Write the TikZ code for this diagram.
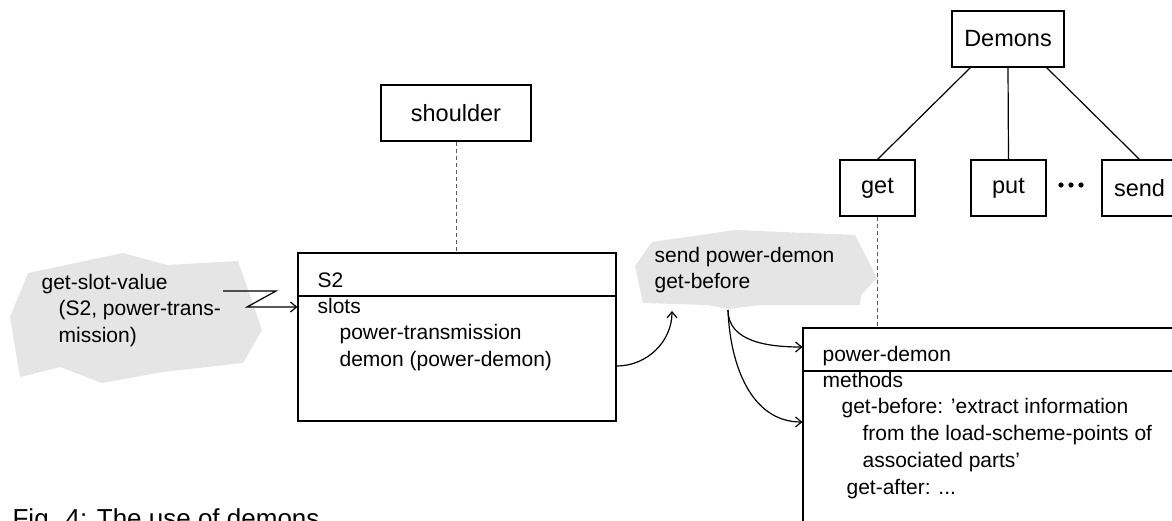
\documentclass[tikz,border=0pt]{standalone}
\usepackage{fontspec}
\setmainfont{Liberation Sans}
\usetikzlibrary{arrows.meta,calc}
\definecolor{cloudgray}{RGB}{229,229,229}
\definecolor{linkgray}{RGB}{90,90,90}

\begin{document}
\begin{tikzpicture}[x=1pt,y=-1pt,
  line width=1.2pt,
  >={Straight Barb[length=6pt,width=10pt]},
  titlebox/.style={draw, inner sep=0pt, font=\fontsize{23.5}{28}\selectfont},
  frame/.style={draw, inner sep=0pt},
  body/.style={anchor=base west, inner sep=0pt, align=left,
               font=\fontsize{21}{26.8}\selectfont},
  cloud/.style={fill=cloudgray, draw=none},
  link/.style={draw=linkgray, line width=1pt, dash pattern=on 4pt off 3pt}]
\useasboundingbox (0,0) rectangle (1172,520);
\clip (0,0) rectangle (1172,520);

% grey message clouds
\path[cloud] (28,273) -- (123,253) -- (167,265) -- (238,261) -- (262,330)
  -- (243,363) -- (163,372) -- (102,383) -- (60,367) -- (20,377)
  -- (10,317) -- cycle;
\path[cloud] (635,266) -- (652,242) -- (735,230) -- (855,235) -- (877,278)
  -- (861,295) -- (860,305) -- (760,305) -- (728,309) -- (707,305)
  -- (643,303) -- cycle;

% frames of the hierarchy
\node[titlebox, minimum width=150pt, minimum height=56pt] (sh) at (456,113) {shoulder};
\node[titlebox, minimum width=112pt, minimum height=56pt] (dem) at (1008,39) {Demons};
\node[titlebox, minimum width=75pt, minimum height=56pt] (get) at (877.5,188) {get};
\node[titlebox, minimum width=75pt, minimum height=56pt] (put) at (1008.5,188) {put};
\node[titlebox, minimum width=75pt, minimum height=56pt] (send) at (1139.5,188) {send};

% the frame S2
\node[frame, minimum width=318pt, minimum height=168pt] (s2) at (457,337) {};
\draw (s2.west |- 0,296) -- (s2.east |- 0,296);
\node[body] (s2name) at (317,287) {S2};
% multi-line texts are placed by the baseline of their last line
\node[body] (s2slots) at (317,366.6)
  {slots\\\hspace*{22pt}power-transmission\\\hspace*{22pt}demon (power-demon)};

% the demon power-demon
\node[frame, minimum width=397pt, minimum height=232pt] (pd) at (1001.5,444) {};
\draw (pd.west |- 0,371) -- (pd.east |- 0,371);
\node[body] (pdname) at (822,361) {power-demon};
\node[body] (pdbody) at (822,494.2)
  {methods\\\hspace*{19pt}get-before: ’extract information\\
   \hspace*{40pt}from the load-scheme-points of\\
   \hspace*{40pt}associated parts’\\\hspace*{24pt}get-after: ...};

% message texts
\node[body] (gsv) at (41,342.6)
  {get-slot-value\\\hspace*{17pt}(S2, power-trans-\\\hspace*{17pt}mission)};
\node[body] (spd) at (654,288.8) {send power-demon\\get-before};

% hierarchy links
\draw ([xshift=19pt]dem.south west) -- (get.north);
\draw (dem.south) -- (put.north);
\draw ([xshift=-18pt]dem.south east) -- (send.north);
\fill (1061,185) circle[radius=2.6pt] (1071,185) circle[radius=2.6pt]
      (1081,185) circle[radius=2.6pt];

% instance links
\draw[link] (sh.south) -- (sh.south |- s2.north);
\draw[link] (get.south) -- (get.south |- pd.north);

% message flow
\coordinate (zz) at (223,291);
\draw[->] (zz) -- ++(53,0) -- ++(-29,16) -- (s2.west |- 0,307);
\coordinate (b2in) at (672,311);
\draw[->] (s2.east |- 0,366) to[out=0,in=-90] (b2in);
\coordinate (b2out) at (728,310);
\draw[->] (b2out) to[out=-90,in=180] (pd.west |- 0,347);
\draw[->] (b2out) to[out=-88,in=180] (pd.west |- 0,422);

% caption
\node[anchor=base west, inner sep=0pt, font=\fontsize{26}{30}\selectfont] (cap)
  at (12,527) {Fig. 4: The use of demons};
\end{tikzpicture}
\end{document}
